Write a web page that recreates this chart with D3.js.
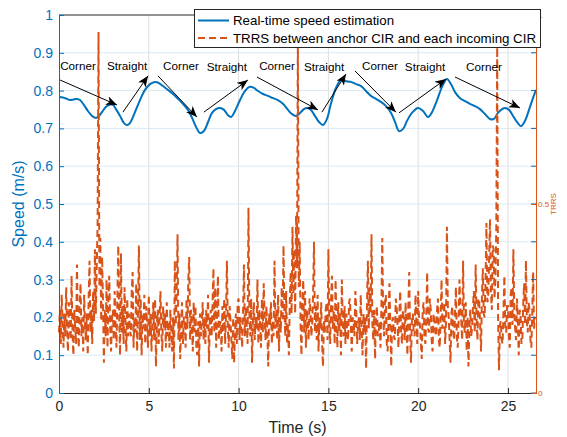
<!DOCTYPE html>
<html>
<head>
<meta charset="utf-8">
<script src="https://cdn.jsdelivr.net/npm/d3@7"></script>
<style>
  body { margin: 0; background: #fff; }
  svg text { font-family: "Liberation Sans", Arial, Helvetica, sans-serif; }
</style>
</head>
<body>
<svg id="chart" width="567" height="437"></svg>
<script>
// speed estimate (time in s, speed in m/s)
const speedTime = [0.00,0.22,0.45,0.61,0.78,1.00,1.17,1.39,1.61,1.84,2.00,2.17,2.39,2.62,2.84,3.01,3.17,3.40,3.62,3.79,
  3.95,4.23,4.51,4.79,5.07,5.35,5.57,5.79,6.07,6.35,6.63,6.90,7.18,7.41,7.63,7.85,8.07,8.30,8.52,8.74,
  8.96,9.19,9.41,9.58,9.80,10.08,10.36,10.63,10.86,11.08,11.36,11.64,11.92,12.19,12.47,12.75,12.97,13.20,13.42,13.64,
  13.81,14.03,14.25,14.48,14.70,14.92,15.14,15.42,15.70,15.98,16.26,16.54,16.82,17.09,17.37,17.65,17.93,18.21,18.49,18.71,
  18.93,19.15,19.38,19.65,19.99,20.27,20.55,20.77,21.05,21.33,21.60,21.83,22.05,22.33,22.61,22.88,23.16,23.44,23.72,24.00,
  24.22,24.44,24.67,24.83,25.06,25.28,25.50,25.72,25.95,26.17,26.39,26.56];
const speedValue = [0.783,0.782,0.778,0.775,0.776,0.778,0.775,0.762,0.746,0.733,0.728,0.730,0.743,0.757,0.763,0.762,0.751,0.733,0.714,0.709,
  0.714,0.743,0.775,0.802,0.817,0.823,0.820,0.812,0.802,0.791,0.778,0.765,0.749,0.728,0.704,0.688,0.693,0.717,0.741,0.751,
  0.754,0.749,0.735,0.730,0.746,0.775,0.799,0.810,0.807,0.799,0.791,0.786,0.780,0.775,0.765,0.749,0.738,0.733,0.741,0.751,
  0.754,0.749,0.733,0.717,0.709,0.725,0.765,0.807,0.828,0.825,0.823,0.817,0.812,0.799,0.786,0.778,0.770,0.759,0.741,0.717,
  0.693,0.698,0.720,0.741,0.754,0.746,0.730,0.743,0.775,0.810,0.831,0.817,0.796,0.780,0.772,0.765,0.759,0.751,0.738,0.725,
  0.725,0.741,0.751,0.754,0.749,0.733,0.717,0.706,0.720,0.749,0.780,0.802];

// TRRS, one sample every trrsStep seconds (20 per row = 1 s)
const trrsStep = 0.05;
const trrsValue = [
  0.16,0.22,0.13,0.26,0.18,0.12,0.21,0.15,0.28,0.17,0.11,0.24,0.19,0.14,0.31,0.16,0.10,0.22,0.18,0.13,
  0.34,0.17,0.12,0.23,0.29,0.15,0.20,0.11,0.26,0.18,0.14,0.21,0.10,0.25,0.35,0.16,0.22,0.13,0.27,0.19,
  0.38,0.21,0.33,0.45,0.955,0.28,0.41,0.19,0.36,0.24,0.08,0.22,0.15,0.30,0.12,0.25,0.31,0.17,0.11,0.20,
  0.22,0.14,0.27,0.18,0.12,0.25,0.39,0.20,0.10,0.37,0.16,0.23,0.13,0.28,0.19,0.11,0.25,0.15,0.21,0.17,
  0.15,0.27,0.32,0.12,0.20,0.16,0.29,0.11,0.22,0.39,0.14,0.25,0.10,0.21,0.17,0.26,0.13,0.23,0.19,0.12,
  0.26,0.15,0.21,0.11,0.19,0.24,0.14,0.25,0.07,0.18,0.22,0.13,0.20,0.27,0.16,0.11,0.23,0.17,0.21,0.12,
  0.24,0.15,0.19,0.12,0.22,0.16,0.11,0.20,0.065,0.35,0.18,0.26,0.42,0.14,0.21,0.09,0.17,0.24,0.13,0.20,
  0.20,0.12,0.25,0.17,0.30,0.36,0.14,0.22,0.18,0.11,0.24,0.16,0.23,0.12,0.10,0.19,0.07,0.21,0.15,0.19,
  0.24,0.14,0.20,0.13,0.22,0.17,0.26,0.08,0.19,0.22,0.15,0.24,0.33,0.16,0.28,0.12,0.21,0.31,0.14,0.18,
  0.19,0.11,0.23,0.16,0.25,0.13,0.21,0.35,0.17,0.12,0.23,0.19,0.14,0.09,0.20,0.08,0.16,0.21,0.13,0.24,
  0.25,0.14,0.20,0.17,0.12,0.22,0.34,0.15,0.23,0.18,0.13,0.49,0.21,0.15,0.25,0.08,0.19,0.24,0.14,0.20,
  0.17,0.30,0.13,0.22,0.18,0.12,0.25,0.16,0.29,0.20,0.14,0.23,0.16,0.07,0.21,0.18,0.24,0.13,0.19,0.15,
  0.35,0.17,0.22,0.14,0.26,0.11,0.20,0.16,0.28,0.19,0.39,0.22,0.15,0.27,0.13,0.18,0.10,0.24,0.32,0.21,
  0.44,0.26,0.38,0.21,0.47,0.33,0.93,0.28,0.40,0.18,0.10,0.24,0.30,0.16,0.27,0.12,0.22,0.19,0.14,0.25,
  0.22,0.15,0.18,0.27,0.40,0.16,0.23,0.14,0.26,0.11,0.20,0.17,0.24,0.13,0.07,0.19,0.16,0.22,0.24,0.14,
  0.38,0.18,0.13,0.25,0.31,0.17,0.22,0.13,0.30,0.19,0.12,0.24,0.16,0.21,0.10,0.30,0.18,0.15,0.23,0.13,
  0.21,0.16,0.14,0.24,0.25,0.18,0.11,0.20,0.19,0.15,0.27,0.22,0.13,0.18,0.20,0.14,0.26,0.17,0.10,0.21,
  0.16,0.20,0.065,0.24,0.35,0.17,0.28,0.21,0.42,0.18,0.14,0.22,0.09,0.20,0.23,0.15,0.16,0.19,0.12,0.22,
  0.41,0.20,0.15,0.24,0.26,0.13,0.11,0.21,0.29,0.17,0.07,0.19,0.20,0.15,0.14,0.25,0.23,0.18,0.12,0.21,
  0.27,0.16,0.13,0.22,0.19,0.14,0.24,0.17,0.10,0.23,0.32,0.15,0.08,0.20,0.21,0.16,0.15,0.26,0.19,0.13,
  0.27,0.19,0.18,0.13,0.09,0.22,0.24,0.15,0.13,0.20,0.32,0.17,0.16,0.25,0.22,0.14,0.11,0.21,0.20,0.16,
  0.15,0.22,0.25,0.14,0.12,0.20,0.30,0.17,0.18,0.24,0.13,0.19,0.44,0.23,0.20,0.14,0.08,0.21,0.23,0.16,
  0.14,0.21,0.28,0.15,0.12,0.19,0.30,0.22,0.19,0.14,0.35,0.18,0.16,0.24,0.11,0.20,0.07,0.17,0.22,0.15,
  0.17,0.23,0.27,0.16,0.34,0.20,0.14,0.25,0.24,0.18,0.11,0.26,0.33,0.21,0.20,0.30,0.45,0.24,0.25,0.36,
  0.46,0.27,0.22,0.39,0.38,0.25,0.30,0.44,0.915,0.20,0.06,0.18,0.19,0.14,0.13,0.22,0.31,0.17,0.16,0.23,
  0.23,0.15,0.12,0.26,0.28,0.18,0.38,0.21,0.17,0.14,0.25,0.19,0.10,0.22,0.21,0.13,0.14,0.24,0.29,0.18,
  0.35,0.19,0.16,0.24,0.22,0.14,0.12,0.21,0.32,0.17,0.20];

const timeTicks = [0, 5, 10, 15, 20, 25];
const speedTicks = [0, 0.1, 0.2, 0.3, 0.4, 0.5, 0.6, 0.7, 0.8, 0.9, 1];
const trrsTicks = [0, 0.5, 1];
const seriesNames = ["Real-time speed estimation", "TRRS between anchor CIR and each incoming CIR"];

// segment labels and arrows, in (time, speed) units
const segmentNames = ["Corner","Straight","Corner","Straight","Corner","Straight","Corner","Straight","Corner"];
const segmentTime = [1.06, 3.79, 6.79, 9.35, 12.14, 14.76, 17.87, 20.38, 23.66];
const segmentSpeed = [0.865, 0.865, 0.865, 0.862, 0.865, 0.862, 0.865, 0.862, 0.862];
const arrowStart = [[0.06,0.828],[3.56,0.743],[5.51,0.839],[8.07,0.743],[11.02,0.836],[14.64,0.743],[16.48,0.852],[18.93,0.741],[22.05,0.836]];
const arrowEnd = [[3.23,0.762],[4.96,0.839],[7.68,0.730],[10.52,0.828],[14.42,0.749],[15.98,0.844],[18.76,0.743],[21.55,0.831],[25.67,0.754]];

const blue = "#0072BD", orange = "#D95319", axisGray = "#262626";

var margin = { top: 15, right: 31, bottom: 44, left: 59 };
var width = 567 - margin.left - margin.right;
var height = 437 - margin.top - margin.bottom;

var svg = d3.select("#chart");
var g = svg.append("g").attr("transform", "translate(" + margin.left + "," + margin.top + ")");

var x = d3.scaleLinear().domain([0, 26.56]).range([0, width]);
var ySpeed = d3.scaleLinear().domain([0, 1]).range([height, 0]);
var yTrrs = d3.scaleLinear().domain([0, 1]).range([height, 0]);

// grid
g.append("g").selectAll("line").data(timeTicks.slice(1)).join("line")
  .attr("x1", d => x(d)).attr("x2", d => x(d))
  .attr("y1", 0).attr("y2", height)
  .attr("stroke", "#dedede").attr("stroke-width", 1);
g.append("g").selectAll("line").data(speedTicks.slice(1, -1)).join("line")
  .attr("x1", 0).attr("x2", width)
  .attr("y1", d => ySpeed(d)).attr("y2", d => ySpeed(d))
  .attr("stroke", "#d9e9f5").attr("stroke-width", 1);

// speed line
g.append("path")
  .datum(speedTime.map((t, i) => [t, speedValue[i]]))
  .attr("fill", "none")
  .attr("stroke", blue)
  .attr("stroke-width", 2)
  .attr("d", d3.line()
    .x(d => x(d[0]))
    .y(d => ySpeed(d[1]))
    .curve(d3.curveCatmullRom.alpha(0.5)));

// TRRS line
g.append("path")
  .datum(trrsValue.map((v, i) => [i * trrsStep, v]))
  .attr("fill", "none")
  .attr("stroke", orange)
  .attr("stroke-width", 2)
  .attr("stroke-dasharray", "7,4")
  .attr("d", d3.line()
    .x(d => x(d[0]))
    .y(d => yTrrs(d[1])));

// axes
var xAxis = g.append("g")
  .attr("transform", "translate(0," + height + ")")
  .call(d3.axisBottom(x).tickValues(timeTicks).tickFormat(d3.format("d")).tickSize(-5).tickPadding(8));
xAxis.select(".domain").attr("stroke", axisGray);
xAxis.selectAll(".tick line").attr("stroke", axisGray);
xAxis.selectAll("text").attr("fill", axisGray).style("font-size", "14px");

// top border
g.append("line").attr("x1", 0).attr("x2", width).attr("y1", 0).attr("y2", 0)
  .attr("stroke", axisGray).attr("stroke-width", 1);

var yAxis = g.append("g")
  .call(d3.axisLeft(ySpeed).tickValues(speedTicks).tickFormat(d3.format("")).tickSize(-5).tickPadding(6));
yAxis.select(".domain").attr("stroke", blue);
yAxis.selectAll(".tick line").attr("stroke", blue);
yAxis.selectAll("text").attr("fill", blue).style("font-size", "14px");

// speed ticks mirrored on the right edge
g.append("g").selectAll("line").data(speedTicks).join("line")
  .attr("x1", width - 5).attr("x2", width)
  .attr("y1", d => ySpeed(d)).attr("y2", d => ySpeed(d))
  .attr("stroke", blue);

var yAxisR = g.append("g")
  .attr("transform", "translate(" + width + ",0)")
  .call(d3.axisRight(yTrrs).tickValues(trrsTicks).tickFormat(d => String(d)).tickSize(-5).tickPadding(2));
yAxisR.select(".domain").attr("stroke", orange);
yAxisR.selectAll(".tick line").attr("stroke", orange);
yAxisR.selectAll("text").attr("fill", orange).style("font-size", "8px");

// axis titles
svg.append("text")
  .attr("x", margin.left + width / 2).attr("y", 433)
  .attr("text-anchor", "middle")
  .attr("fill", axisGray)
  .style("font-size", "16px")
  .text("Time (s)");
svg.append("text")
  .attr("transform", "translate(24," + (margin.top + height / 2) + ") rotate(-90)")
  .attr("text-anchor", "middle")
  .attr("fill", blue)
  .style("font-size", "16px")
  .text("Speed (m/s)");
svg.append("text")
  .attr("transform", "translate(556," + (margin.top + height / 2) + ") rotate(-90)")
  .attr("text-anchor", "middle")
  .attr("fill", orange)
  .style("font-size", "8px")
  .text("TRRS");

// arrows and segment labels
svg.append("defs").append("marker")
  .attr("id", "head")
  .attr("markerUnits", "userSpaceOnUse")
  .attr("markerWidth", 12).attr("markerHeight", 10)
  .attr("refX", 11).attr("refY", 4.5)
  .attr("orient", "auto")
  .append("path")
  .attr("d", "M0,0 L11,4.5 L0,9 L3,4.5 Z")
  .attr("fill", "#000");

g.append("g").selectAll("line").data(arrowStart).join("line")
  .attr("x1", d => x(d[0])).attr("y1", d => ySpeed(d[1]))
  .attr("x2", (d, i) => x(arrowEnd[i][0])).attr("y2", (d, i) => ySpeed(arrowEnd[i][1]))
  .attr("stroke", "#000").attr("stroke-width", 1)
  .attr("marker-end", "url(#head)");

g.append("g").selectAll("text").data(segmentNames).join("text")
  .attr("x", (d, i) => x(segmentTime[i]))
  .attr("y", (d, i) => ySpeed(segmentSpeed[i]))
  .attr("dy", "0.35em")
  .attr("text-anchor", "middle")
  .attr("fill", "#000")
  .style("font-size", "11.7px")
  .text(d => d);

// legend
var legend = svg.append("g");
legend.append("rect")
  .attr("x", 194.5).attr("y", 9.5).attr("width", 346).attr("height", 38)
  .attr("fill", "#fff").attr("stroke", axisGray).attr("stroke-width", 1);
var entries = legend.selectAll("g").data(seriesNames).join("g")
  .attr("transform", (d, i) => "translate(198," + (20.5 + i * 17.5) + ")");
entries.append("line")
  .attr("x1", 0).attr("x2", 31)
  .attr("stroke", (d, i) => i === 0 ? blue : orange)
  .attr("stroke-width", 2)
  .attr("stroke-dasharray", (d, i) => i === 0 ? null : "7,4");
entries.append("text")
  .attr("x", 35).attr("dy", "0.35em")
  .attr("fill", "#000")
  .style("font-size", "13.3px")
  .text(d => d);
</script>
</body>
</html>
